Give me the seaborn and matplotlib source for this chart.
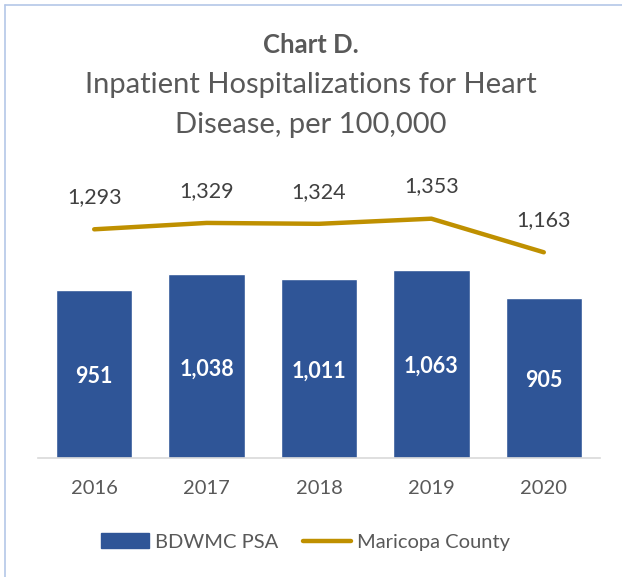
import matplotlib
matplotlib.use("Agg")
import matplotlib.pyplot as plt
import seaborn as sns
import pandas as pd
from matplotlib.lines import Line2D
from matplotlib.patches import Patch

years = ["2016", "2017", "2018", "2019", "2020"]
psa = [951, 1038, 1011, 1063, 905]
maricopa = [1293, 1329, 1324, 1353, 1163]

sns.set_theme(style="white")
plt.rcParams['font.family'] = ['Lato', 'DejaVu Sans']

df = pd.DataFrame({"year": years, "psa": psa, "maricopa": maricopa})

fig = plt.figure(figsize=(6.22, 5.77), dpi=100)
ax = fig.add_axes([38/622, 119/577, 562/622, 283/577])

bar_color = "#2F5597"
line_color = "#BF9000"
text_color = "#595959"

sns.barplot(data=df, x="year", y="psa", color=bar_color, width=0.68, ax=ax, saturation=1)
sns.lineplot(x=list(range(len(years))), y=maricopa, color=line_color, linewidth=3.2, ax=ax,
             solid_capstyle="round")

ax.set_ylim(0, 1600)
ax.set_xlim(-0.5, 4.5)
for s in ["top", "right", "left"]:
    ax.spines[s].set_visible(False)
ax.spines["bottom"].set_color("#D9D9D9")
ax.spines["bottom"].set_linewidth(1.2)
ax.set_yticks([])
ax.set_xlabel("")
ax.set_ylabel("")
ax.tick_params(axis="x", length=0, pad=16, labelsize=14.5, labelcolor=text_color)

for i, v in enumerate(psa):
    ax.text(i, v / 2 - 15, f"{v:,}", ha="center", va="center", color="white",
            fontsize=15.5, fontweight="bold")
for i, v in enumerate(maricopa):
    ax.text(i, v + 125, f"{v:,}", ha="center", va="bottom", color="#404040", fontsize=15.5)

fig.text(0.5, 1 - 45/577, "Chart D.", ha="center", va="center", fontsize=18.5,
         fontweight="bold", color=text_color)
fig.text(0.5, 1 - 85/577, "Inpatient Hospitalizations for Heart", ha="center", va="center",
         fontsize=21, color=text_color)
fig.text(0.5, 1 - 125/577, "Disease, per 100,000", ha="center", va="center",
         fontsize=21, color=text_color)

handles = [Patch(facecolor=bar_color, edgecolor=bar_color),
           Line2D([0], [0], color=line_color, linewidth=3.2, solid_capstyle="round")]
fig.legend(handles, ["BDWMC PSA", "Maricopa County"], loc="center",
           bbox_to_anchor=(0.491, 1 - 542/577), ncol=2, frameon=False, fontsize=14.5,
           handlelength=2.4, handletextpad=0.3, columnspacing=1.2, labelcolor=text_color)

# chart frame
fig.add_artist(Line2D([5/622, 5/622], [0, 1 - 5/577], transform=fig.transFigure,
                      color="#B4C7E7", linewidth=1.2))
fig.add_artist(Line2D([5/622, 1], [1 - 5/577, 1 - 5/577], transform=fig.transFigure,
                      color="#B4C7E7", linewidth=1.2))

fig.savefig("out.png", dpi=100)
